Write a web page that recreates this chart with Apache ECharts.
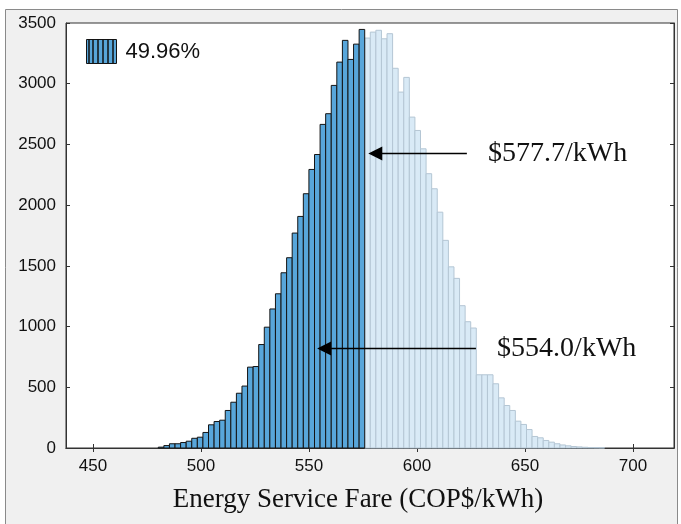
<!DOCTYPE html>
<html>
<head>
<meta charset="utf-8">
<script src="https://cdn.jsdelivr.net/npm/echarts@6/dist/echarts.min.js"></script>
<style>html,body{margin:0;padding:0;background:#fff;}#c{width:681px;height:524px;}</style>
</head>
<body>
<div id="c"></div>
<script>
// Histogram bins: first bin edge and bin width (COP$/kWh)
var binStart = 480.23;
var binWidth = 2.583;
// Counts of bins up to the 577.7 mark (highlighted, 49.96%)
var darkCounts = [7, 20, 35, 35, 45, 56, 80, 89, 128, 191, 218, 229, 309, 377, 451, 510, 666, 671, 852, 995, 1145, 1270, 1443, 1567, 1770, 1907, 2094, 2294, 2417, 2665, 2753, 2986, 3178, 3357, 3200, 3326, 3447];
// Counts of the remaining bins
var lightCounts = [3376, 3425, 3440, 3370, 3412, 3127, 2931, 3052, 2725, 2615, 2464, 2259, 2135, 1942, 1710, 1492, 1397, 1172, 1040, 988, 603, 603, 603, 529, 413, 350, 309, 221, 194, 152, 95, 84, 62, 48, 35, 25, 18, 12, 9, 6, 4, 3, 2];
var xTicks = [450, 500, 550, 600, 650, 700];
var yTicks = [0, 500, 1000, 1500, 2000, 2500, 3000, 3500];
var legendLabel = ['49.96%'];
// Annotations: value pointed at, arrow height (count), arrow tail value, label
var annoValue = [577.7, 554.0];
var annoY = [2425, 820];
var annoTail = [623.1, 627.3];
var annoText = ['$577.7/kWh', '$554.0/kWh'];

function bins(counts, offset) {
  return counts.map(function (c, i) {
    var x0 = binStart + (offset + i) * binWidth;
    return [x0, x0 + binWidth, c];
  });
}
var darkData = bins(darkCounts, 0);
var lightData = bins(lightCounts, darkCounts.length);

function makeRender(fill, stroke) {
  return function (params, api) {
    var p0 = api.coord([api.value(0), api.value(2)]);
    var p1 = api.coord([api.value(1), 0]);
    return {
      type: 'rect',
      shape: { x: p0[0], y: p0[1], width: p1[0] - p0[0], height: p1[1] - p0[1] },
      style: { fill: fill, stroke: stroke, lineWidth: 1 }
    };
  };
}

var chart = echarts.init(document.getElementById('c'), null, { renderer: 'canvas' });
var xMin = 437.5, xMax = 719;
var axisBase = {
  type: 'value', min: xMin, max: xMax,
  axisLine: { show: true, lineStyle: { color: '#333', width: 1 } },
  splitLine: { show: false }
};
var stripeX = [89, 93, 98, 103, 108, 113];
var option = {
  animation: false,
  backgroundColor: '#ffffff',
  graphic: [
    { type: 'rect', z: -10, shape: { x: 5.5, y: 9.5, width: 672, height: 530 }, style: { fill: '#f0f0f0', stroke: '#8a8a8a', lineWidth: 1 } }
  ].concat(stripeX.map(function (x) {
    return { type: 'line', z: 200, zlevel: 1, shape: { x1: x, y1: 39, x2: x, y2: 63 }, style: { stroke: '#111', lineWidth: 1.5 } };
  })),
  grid: { left: 66, top: 23, right: 7, bottom: 76, show: true, backgroundColor: '#ffffff', borderColor: '#333', borderWidth: 1 },
  legend: {
    data: legendLabel, left: 86, top: 39, padding: 0, itemWidth: 30, itemHeight: 24, icon: 'rect',
    itemStyle: { borderColor: '#141414', borderWidth: 1 },
    textStyle: { fontFamily: 'Liberation Sans', fontSize: 22, color: '#111', padding: [0, 0, 0, 4] }
  },
  xAxis: [
    Object.assign({}, axisBase, {
      position: 'bottom',
      name: 'Energy Service Fare (COP$/kWh)', nameLocation: 'middle', nameGap: 38,
      nameTextStyle: { fontFamily: 'Liberation Serif', fontSize: 27, color: '#111', padding: [0, 24, 0, 0] },
      axisTick: { show: true, inside: true, length: 4, customValues: xTicks, lineStyle: { color: '#333' } },
      axisLabel: { show: true, customValues: xTicks, fontFamily: 'Liberation Sans', fontSize: 17, color: '#111', margin: 10 }
    }),
    Object.assign({}, axisBase, {
      position: 'top',
      axisTick: { show: true, inside: true, length: 4, customValues: xTicks, lineStyle: { color: '#333' } },
      axisLabel: { show: false }
    })
  ],
  yAxis: [
    {
      type: 'value', min: 0, max: 3500, interval: 500, position: 'left',
      axisLine: { show: true, lineStyle: { color: '#333' } },
      axisTick: { show: true, inside: true, length: 4, lineStyle: { color: '#333' } },
      axisLabel: { fontFamily: 'Liberation Sans', fontSize: 17, color: '#111', margin: 10, formatter: function (v) { return String(v); } },
      splitLine: { show: false }
    },
    {
      type: 'value', min: 0, max: 3500, interval: 500, position: 'right',
      axisLine: { show: true, lineStyle: { color: '#333' } },
      axisTick: { show: true, inside: true, length: 4, lineStyle: { color: '#333' } },
      axisLabel: { show: false },
      splitLine: { show: false }
    }
  ],
  series: [
    {
      type: 'custom', name: 'rest', xAxisIndex: 0, yAxisIndex: 0,
      renderItem: makeRender('#d9eaf6', '#b4c6d4'),
      encode: { x: [0, 1], y: 2 },
      data: lightData, z: 2
    },
    {
      type: 'custom', name: legendLabel[0], xAxisIndex: 0, yAxisIndex: 0,
      renderItem: makeRender('#58a6da', '#141414'),
      itemStyle: { color: '#58a6da', borderColor: '#141414', borderWidth: 1 },
      encode: { x: [0, 1], y: 2 },
      data: darkData, z: 3
    },
    {
      type: 'scatter', name: 'anno', xAxisIndex: 0, yAxisIndex: 0, data: [], z: 10,
      markLine: {
        silent: true, symbol: ['none', 'triangle'], symbolSize: 14,
        lineStyle: { color: '#000', width: 1.3, type: 'solid' },
        itemStyle: { color: '#000' },
        label: { show: false },
        data: annoValue.map(function (v, i) {
          return [{ coord: [annoTail[i], annoY[i]] }, { coord: [v + 3.0, annoY[i]] }];
        })
      },
      markPoint: {
        silent: true, symbol: 'circle', symbolSize: 0,
        label: { show: true, position: 'right', distance: 0, fontFamily: 'Liberation Serif', fontSize: 28, color: '#111', formatter: function (p) { return p.name; } },
        data: annoText.map(function (t, i) {
          return { name: t, coord: [annoTail[i] + 9.8, annoY[i]] };
        })
      }
    }
  ]
};
chart.setOption(option);
</script>
</body>
</html>
